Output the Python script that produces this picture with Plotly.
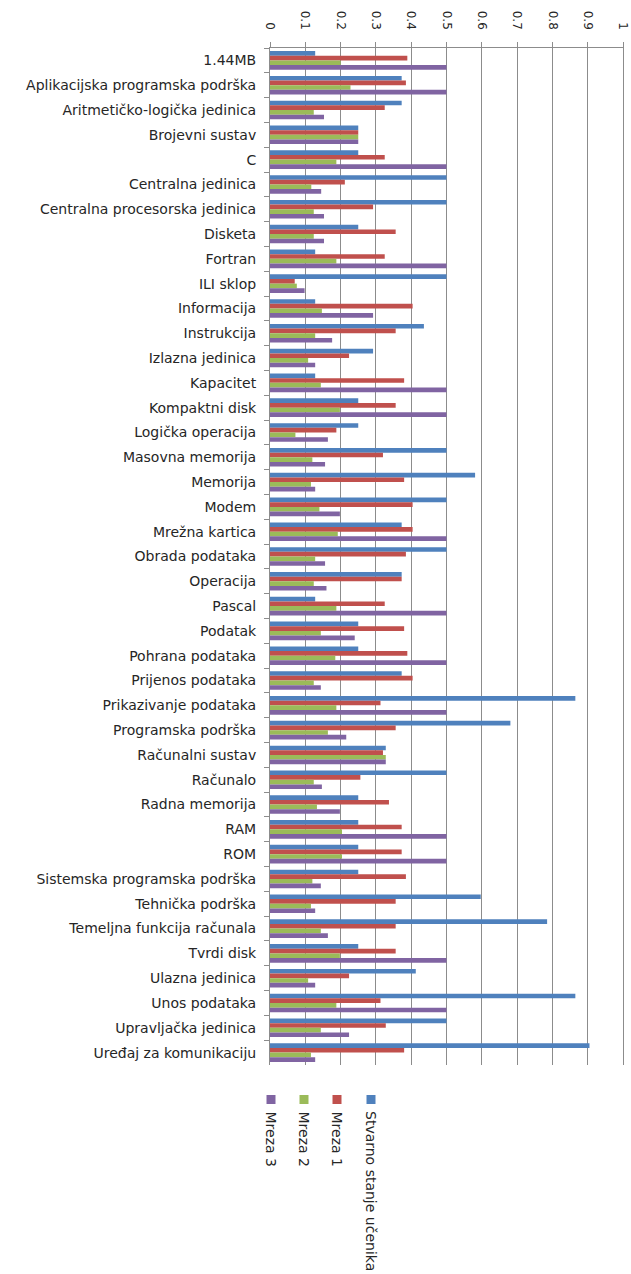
import plotly.graph_objects as go

categories = [
    "1.44MB", "Aplikacijska programska podrška", "Aritmetičko-logička jedinica",
    "Brojevni sustav", "C", "Centralna jedinica", "Centralna procesorska jedinica",
    "Disketa", "Fortran", "ILI sklop", "Informacija", "Instrukcija",
    "Izlazna jedinica", "Kapacitet", "Kompaktni disk", "Logička operacija",
    "Masovna memorija", "Memorija", "Modem", "Mrežna kartica", "Obrada podataka",
    "Operacija", "Pascal", "Podatak", "Pohrana podataka", "Prijenos podataka",
    "Prikazivanje podataka", "Programska podrška", "Računalni sustav", "Računalo",
    "Radna memorija", "RAM", "ROM", "Sistemska programska podrška",
    "Tehnička podrška", "Temeljna funkcija računala", "Tvrdi disk",
    "Ulazna jedinica", "Unos podataka", "Upravljačka jedinica",
    "Uređaj za komunikaciju",
]

stvarno_stanje = [
    0.128, 0.373, 0.373, 0.25, 0.25, 0.5, 0.5, 0.25, 0.128, 0.5, 0.128, 0.436,
    0.292, 0.128, 0.25, 0.25, 0.5, 0.581, 0.5, 0.373, 0.5, 0.373, 0.128, 0.25,
    0.25, 0.373, 0.865, 0.681, 0.328, 0.5, 0.25, 0.25, 0.25, 0.25, 0.597, 0.785,
    0.25, 0.413, 0.865, 0.5, 0.905,
]
mreza_1 = [
    0.389, 0.385, 0.325, 0.25, 0.325, 0.212, 0.292, 0.356, 0.325, 0.07, 0.404,
    0.356, 0.224, 0.38, 0.356, 0.188, 0.32, 0.38, 0.404, 0.404, 0.385, 0.373,
    0.325, 0.38, 0.389, 0.404, 0.313, 0.356, 0.32, 0.256, 0.337, 0.373, 0.373,
    0.385, 0.356, 0.356, 0.356, 0.224, 0.313, 0.328, 0.38,
]
mreza_2 = [
    0.2, 0.228, 0.124, 0.25, 0.188, 0.117, 0.124, 0.124, 0.188, 0.076, 0.147,
    0.128, 0.108, 0.144, 0.198, 0.072, 0.12, 0.116, 0.14, 0.192, 0.128, 0.124,
    0.188, 0.144, 0.185, 0.124, 0.188, 0.164, 0.328, 0.124, 0.133, 0.204, 0.204,
    0.12, 0.116, 0.144, 0.198, 0.108, 0.188, 0.144, 0.116,
]
mreza_3 = [
    0.5, 0.5, 0.153, 0.25, 0.5, 0.145, 0.153, 0.153, 0.5, 0.098, 0.292, 0.176,
    0.128, 0.5, 0.5, 0.164, 0.156, 0.128, 0.198, 0.5, 0.156, 0.16, 0.5, 0.24,
    0.5, 0.144, 0.5, 0.216, 0.328, 0.147, 0.198, 0.5, 0.5, 0.144, 0.128, 0.164,
    0.5, 0.128, 0.5, 0.224, 0.128,
]

series_names = ["Stvarno stanje učenika", "Mreza 1", "Mreza 2", "Mreza 3"]
series_values = [stvarno_stanje, mreza_1, mreza_2, mreza_3]
series_colors = ["#4F81BD", "#C0504D", "#9BBB59", "#8064A2"]

TEXT = "#262626"
GRID = "#8C8C8C"
FONT = "DejaVu Sans, Verdana, sans-serif"

fig = go.Figure()
for name, vals, col in zip(series_names, series_values, series_colors):
    fig.add_trace(go.Bar(
        y=categories, x=vals, name=name, orientation="h",
        marker=dict(color=col, line=dict(width=0)),
        showlegend=False,
    ))

# Vertical legend below the plot: small colour squares with rotated labels
plot_left, plot_right = 270, 623
plot_top, plot_bottom = 48, 1065
pw = plot_right - plot_left
ph = plot_bottom - plot_top

def px(pixel_x):
    return (pixel_x - plot_left) / pw

def py(pixel_y):
    return (plot_bottom - pixel_y) / ph

legend_px = {"Mreza 3": 271, "Mreza 2": 304, "Mreza 1": 337, "Stvarno stanje učenika": 371}
for name, col in zip(series_names, series_colors):
    cx = legend_px[name]
    fig.add_shape(type="rect", xref="paper", yref="paper",
                  x0=px(cx - 4.5), x1=px(cx + 4.5), y0=py(1104), y1=py(1095),
                  fillcolor=col, line=dict(width=0))
    fig.add_annotation(text=name, xref="paper", yref="paper",
                       x=px(cx), y=py(1109), xanchor="center", yanchor="top",
                       textangle=90, showarrow=False,
                       font=dict(family=FONT, size=14, color=TEXT))

fig.update_layout(
    width=631, height=1274,
    margin=dict(l=plot_left, r=631 - plot_right, t=plot_top, b=1274 - plot_bottom),
    paper_bgcolor="white", plot_bgcolor="white",
    barmode="group", bargap=0.25, bargroupgap=0,
    font=dict(family=FONT, color=TEXT),
    xaxis=dict(
        side="top", range=[0, 1], tick0=0, dtick=0.1,
        showgrid=True, gridcolor=GRID, gridwidth=1,
        showline=True, linecolor=GRID, linewidth=1,
        ticks="outside", ticklen=5, tickcolor=GRID,
        tickangle=90, tickfont=dict(size=12, color=TEXT),
        ticklabelstandoff=8, ticklabeloverflow="allow",
        automargin=False, zeroline=False, fixedrange=True,
    ),
    yaxis=dict(
        autorange="reversed", showgrid=False,
        showline=True, linecolor=GRID, linewidth=1, mirror=True,
        ticks="outside", ticklen=5, tickcolor=GRID, tickson="boundaries",
        tickfont=dict(size=14, color=TEXT), ticklabelstandoff=10,
        automargin=False, fixedrange=True,
    ),
)

fig.write_html("out.html")
